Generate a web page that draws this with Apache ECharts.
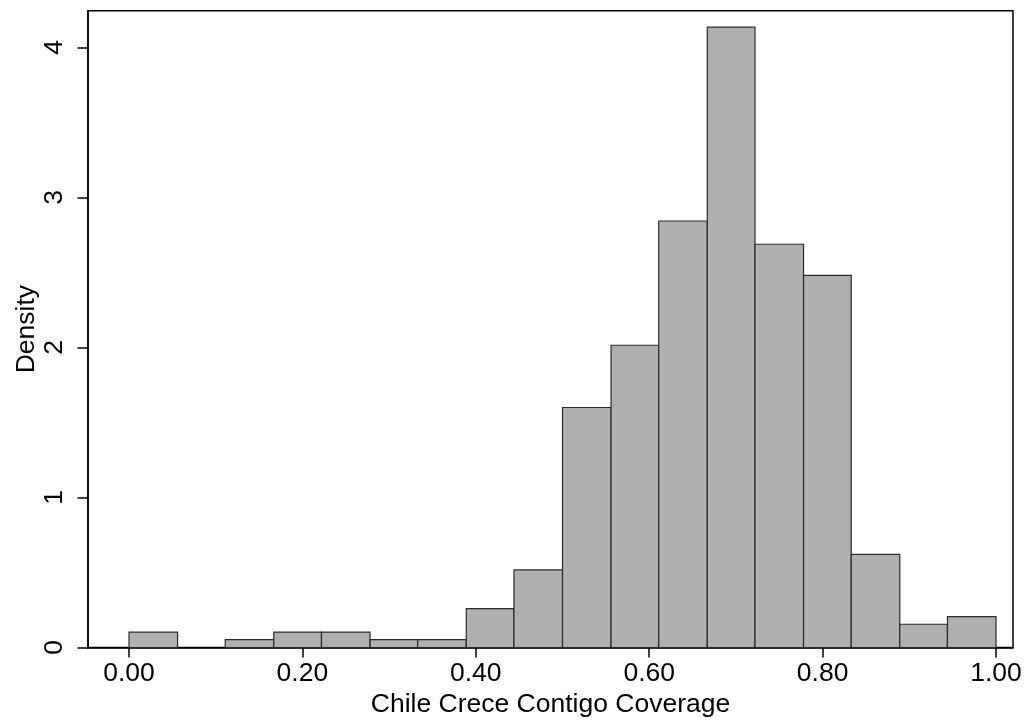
<!DOCTYPE html>
<html>
<head>
<meta charset="utf-8">
<script src="https://cdn.jsdelivr.net/npm/echarts@6/dist/echarts.min.js"></script>
<style>
html,body{margin:0;padding:0;background:#fff;}
#chart{width:1026px;height:721px;}
</style>
</head>
<body>
<div id="chart"></div>
<script>
// Histogram bin edges (coverage) and densities
const binEdges = [0.000, 0.056, 0.111, 0.167, 0.222, 0.278, 0.333, 0.389, 0.444, 0.500,
                  0.556, 0.611, 0.667, 0.722, 0.778, 0.833, 0.889, 0.944, 1.000];
const density = [0.103, 0, 0.052, 0.103, 0.103, 0.052, 0.052, 0.259, 0.517, 1.600,
                 2.015, 2.843, 4.135, 2.688, 2.481, 0.621, 0.155, 0.206];
const xTicks = [0, 0.2, 0.4, 0.6, 0.8, 1.0];
const yTicks = [0, 1, 2, 3, 4];
const xTitle = 'Chile Crece Contigo Coverage';
const yTitle = 'Density';

const FONT = "'Liberation Sans', Arial, Helvetica, sans-serif";
const FS = 26.5;
const data = [];
for (let i = 0; i < density.length; i++) {
  if (density[i] > 0) data.push([binEdges[i], binEdges[i + 1], density[i]]);
}

const chart = echarts.init(document.getElementById('chart'), null, {renderer: 'canvas'});
chart.setOption({
  animation: false,
  backgroundColor: '#fff',
  grid: {
    left: 88, right: 13, top: 10.7, bottom: 73.5,
    outerBoundsMode: 'none', containLabel: false,
    show: true, borderColor: '#000', borderWidth: 1.5, backgroundColor: 'transparent'
  },
  xAxis: {
    type: 'value',
    min: -0.0473, max: 1.0196,
    name: xTitle, nameLocation: 'middle', nameGap: 44, nameMoveOverlap: false,
    nameTextStyle: {fontFamily: FONT, fontSize: FS, color: '#000'},
    axisLine: {show: true, onZero: false, lineStyle: {color: '#000', width: 1.5}},
    axisTick: {show: true, length: 10, customValues: xTicks, lineStyle: {color: '#000', width: 1.5}},
    axisLabel: {customValues: xTicks, fontFamily: FONT, fontSize: FS, color: '#000', margin: 13,
      formatter: v => v.toFixed(2)},
    splitLine: {show: false}
  },
  yAxis: {
    type: 'value',
    min: 0, max: 4.245,
    name: yTitle, nameLocation: 'middle', nameGap: 48, nameRotate: 90, nameMoveOverlap: false,
    nameTextStyle: {fontFamily: FONT, fontSize: FS, color: '#000'},
    axisLine: {show: true, onZero: false, lineStyle: {color: '#000', width: 1.5}},
    axisTick: {show: true, length: 10.5, customValues: yTicks, lineStyle: {color: '#000', width: 1.5}},
    axisLabel: {customValues: yTicks, rotate: 90, fontFamily: FONT, fontSize: FS, color: '#000', margin: 20,
      formatter: v => String(v)},
    splitLine: {show: false}
  },
  series: [{
    type: 'custom',
    data: data,
    encode: {x: [0, 1], y: 2},
    renderItem: function (params, api) {
      const p0 = api.coord([api.value(0), api.value(2)]);
      const p1 = api.coord([api.value(1), 0]);
      return {
        type: 'rect',
        shape: {x: p0[0], y: p0[1], width: p1[0] - p0[0], height: p1[1] - p0[1]},
        style: {fill: '#b0b0b0', stroke: '#2a2a2a', lineWidth: 1.2}
      };
    }
  }]
});
</script>
</body>
</html>
